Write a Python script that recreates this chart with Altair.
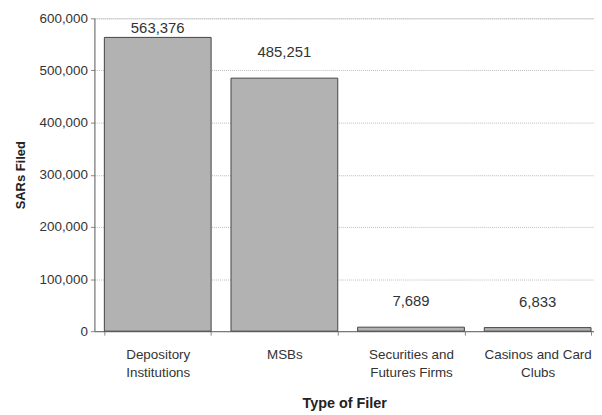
import altair as alt
import pandas as pd

categories = ["Depository Institutions", "MSBs", "Securities and Futures Firms", "Casinos and Card Clubs"]
sars_filed = [563376, 485251, 7689, 6833]
label_lines = {
    "Depository Institutions": ["Depository", "Institutions"],
    "MSBs": ["MSBs"],
    "Securities and Futures Firms": ["Securities and", "Futures Firms"],
    "Casinos and Card Clubs": ["Casinos and Card", "Clubs"],
}
y_ticks = [0, 100000, 200000, 300000, 400000, 500000, 600000]

df = pd.DataFrame({"cat": categories, "value": sars_filed})

expr_parts = []
for k, v in label_lines.items():
    arr = "[" + ",".join("'" + s + "'" for s in v) + "]"
    expr_parts.append(f"datum.label == '{k}' ? {arr} : ")
label_expr = "".join(expr_parts) + "datum.label"

FONT = "Liberation Sans"

x = alt.X("cat:N", sort=categories, title="Type of Filer",
          scale=alt.Scale(paddingInner=0.157, paddingOuter=0.051, align=0.77),
          axis=alt.Axis(labelExpr=label_expr, labelAngle=0, labelFontSize=13.5,
                        labelColor="#333", labelFont=FONT, labelPadding=13,
                        labelLineHeight=18,
                        titleFont=FONT, titleFontSize=14.5, titleColor="#222",
                        titleFontWeight="bold", titlePadding=17,
                        domainColor="#666", tickColor="#888", tickSize=4,
                        tickBand="extent", grid=False))
y_axis = alt.Axis(values=y_ticks, labelExpr="format(datum.value, ',')",
                  labelFontSize=13.5, labelColor="#333",
                  labelFont=FONT, titleFont=FONT, titleFontSize=13,
                  titleColor="#222", titleFontWeight="bold", titlePadding=12,
                  domainColor="#666", tickColor="#888", tickSize=4,
                  gridColor="#bbb", gridDash=[1, 1], labelPadding=3)
y_scale = alt.Scale(domain=[0, 600000], nice=False)

bars = alt.Chart(df).mark_bar(color="#b2b2b2", stroke="#444", strokeWidth=1).encode(
    x=x, y=alt.Y("value:Q", title="SARs Filed", scale=y_scale, axis=y_axis))

text = alt.Chart(df).transform_calculate(
    lab="min(datum.value + 50000, 581000)"
).mark_text(baseline="middle", fontSize=15, font=FONT, color="#333").encode(
    x=alt.X("cat:N", sort=categories),
    y=alt.Y("lab:Q", title="SARs Filed", scale=y_scale, axis=y_axis),
    text=alt.Text("value:Q", format=","),
)

chart = alt.layer(bars, text).properties(
    width=503, height=315,
    autosize=alt.AutoSizeParams(type="none"),
    padding={"left": 87, "top": 9, "right": 0, "bottom": 82},
).configure_view(stroke=None).configure(background="white")

chart.save("out.html", embed_options={"renderer": "svg", "actions": False})
